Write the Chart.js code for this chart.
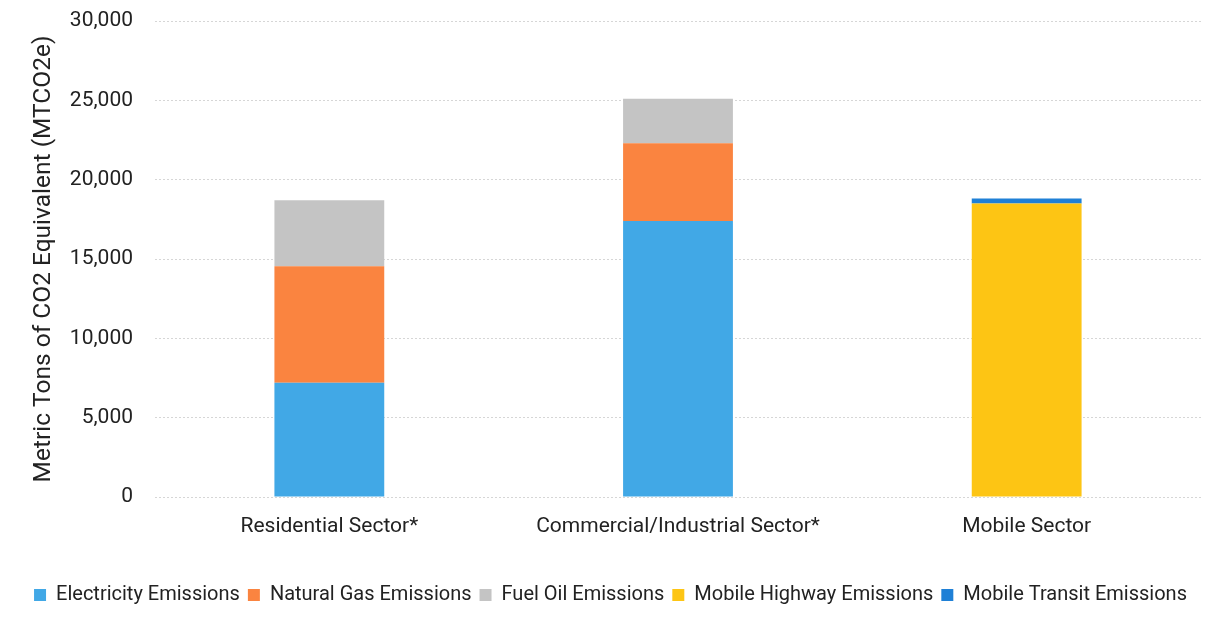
<!DOCTYPE html>
<html>
<head>
<meta charset="utf-8">
<script src="https://cdn.jsdelivr.net/npm/chart.js@4/dist/chart.umd.min.js"></script>
<style>
  html, body { margin: 0; padding: 0; background: #ffffff; }
  #wrap { width: 1231px; height: 643px; position: relative; }
</style>
</head>
<body>
<div id="wrap"><canvas id="c" width="1231" height="643"></canvas></div>
<script>
const categories = ['Residential Sector*', 'Commercial/Industrial Sector*', 'Mobile Sector'];
const electricity = [7200, 17400, 0];
const naturalGas = [7350, 4900, 0];
const fuelOil = [4150, 2800, 0];
const mobileHighway = [0, 0, 18500];
const mobileTransit = [0, 0, 320];
const yTicks = [0, 5000, 10000, 15000, 20000, 25000, 30000];

const FONT = "'Roboto', 'Liberation Sans', sans-serif";
const INK = '#222222';

const mk = (label, data, color) => ({
  label, data, backgroundColor: color, borderWidth: 0,
  barPercentage: 0.315, categoryPercentage: 1.0
});

new Chart(document.getElementById('c'), {
  type: 'bar',
  data: {
    labels: categories,
    datasets: [
      mk('Electricity Emissions', electricity, '#41a8e6'),
      mk('Natural Gas Emissions', naturalGas, '#fa8440'),
      mk('Fuel Oil Emissions', fuelOil, '#c4c4c4'),
      mk('Mobile Highway Emissions', mobileHighway, '#fdc514'),
      mk('Mobile Transit Emissions', mobileTransit, '#1f80d6')
    ]
  },
  options: {
    responsive: false,
    animation: false,
    layout: { padding: { left: 20, right: 30, top: 21, bottom: 28 } },
    plugins: {
      tooltip: { enabled: false },
      legend: {
        position: 'bottom',
        labels: {
          boxWidth: 12, boxHeight: 12, padding: 8,
          color: INK, font: { family: FONT, size: 20 }
        }
      }
    },
    scales: {
      x: {
        stacked: true,
        grid: { display: false },
        border: { display: false },
        afterFit: (ax) => { ax.height = 80; },
        ticks: { color: INK, font: { family: FONT, size: 21 }, padding: 9 }
      },
      y: {
        stacked: true,
        min: 0, max: 30000,
        afterBuildTicks: (ax) => { ax.ticks = yTicks.map(v => ({ value: v })); },
        afterFit: (ax) => { ax.width = 135; ax.paddingTop = 0; ax.paddingBottom = 0; },
        grid: { color: '#d6d6d6', drawTicks: false },
        border: { display: false, dash: [2, 2] },
        ticks: {
          color: INK, font: { family: FONT, size: 21 }, padding: 22,
          callback: v => v.toLocaleString('en-US')
        },
        title: {
          display: true, text: 'Metric Tons of CO2 Equivalent (MTCO2e)',
          color: INK, font: { family: FONT, size: 24.5 }, padding: { top: 9, bottom: 0 }
        }
      }
    }
  }
});
</script>
</body>
</html>
